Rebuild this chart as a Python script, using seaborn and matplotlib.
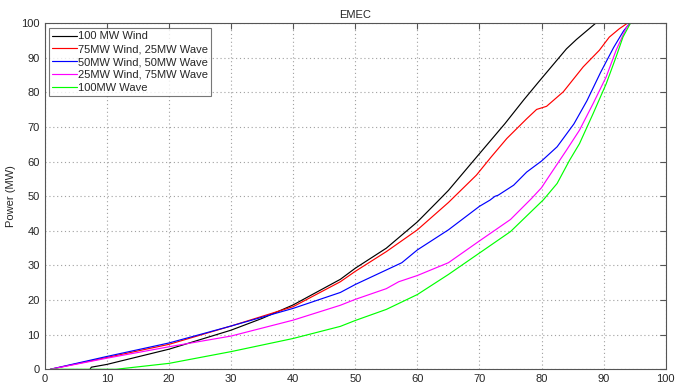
import matplotlib
matplotlib.use("Agg")
import matplotlib.pyplot as plt
import seaborn as sns
import pandas as pd

sns.set_style("white")
plt.rcParams['font.family'] = ['Liberation Sans', 'DejaVu Sans']

labels = ["100 MW Wind", "75MW Wind, 25MW Wave", "50MW Wind, 50MW Wave",
          "25MW Wind, 75MW Wave", "100MW Wave"]
colors = ["#000000", "#ff0000", "#0000ff", "#ff00ff", "#00ff00"]

wind100_x = [7.3, 7.5, 10, 20, 30, 35, 40, 47.6, 50, 55, 60, 63.2, 65, 69.0, 74.1, 77.1, 79.5, 84.0, 85.6, 88.7]
wind100_y = [0, 0.6, 1.4, 5.8, 11.3, 14.7, 18.6, 26, 29.2, 35, 42.6, 48.4, 51.7, 60.2, 71.0, 77.8, 83.0, 92.6, 95.3, 100]

w75_x = [0.9, 10, 20, 30, 40, 47.6, 50, 55, 60, 65, 69.5, 71.9, 74.4, 77.6, 79.2, 80.8, 83.5, 86.7, 89.3, 90.9, 92.5, 93.8]
w75_y = [0, 3.4, 7.2, 12.5, 18.1, 25.3, 28.3, 34, 40.3, 48.2, 56.1, 61.4, 66.7, 72.4, 75.1, 76.0, 80.2, 87.4, 92.2, 96.0, 98.4, 100]

w50_x = [0.9, 10, 20, 30, 40, 47.6, 50, 55, 57.5, 60, 65, 70, 71.7, 72.5, 73.0, 75.5, 77.6, 80.0, 82.5, 85.2, 87.3, 89.5, 91.6, 93.2, 94.2]
w50_y = [0, 3.7, 7.6, 12.5, 17.6, 22.2, 24.5, 28.7, 30.8, 34.5, 40.3, 47.1, 48.9, 50.0, 50.3, 53.2, 57.0, 60.2, 64.3, 70.9, 77.6, 85.8, 93.0, 97.8, 100]

w25_x = [0.9, 10, 20, 30, 40, 47.6, 50, 55, 57, 60, 65, 70, 75, 78.4, 80, 80.8, 84.0, 86.1, 88.3, 90.4, 92.0, 93.7, 94.3]
w25_y = [0, 3.2, 6.5, 9.6, 14.2, 18.5, 20.2, 23.3, 25.3, 27.1, 30.8, 37.1, 43.3, 49.4, 52.5, 54.7, 63.3, 69.1, 76.8, 84.5, 92.2, 98.9, 100]

wave100_x = [1, 11.5, 20, 30, 40, 47.6, 50, 55, 60, 65, 70, 75, 80.3, 82.5, 84.5, 86.1, 88.3, 90.4, 92.0, 93.1, 94.3]
wave100_y = [0, 0, 1.7, 5.1, 8.9, 12.4, 14.1, 17.3, 21.6, 27.4, 33.6, 39.8, 49.0, 53.7, 60.4, 65.2, 73.9, 82.5, 90.3, 96.0, 100]

xticks = list(range(0, 101, 10))
yticks = list(range(0, 101, 10))

series = [(wind100_x, wind100_y), (w75_x, w75_y), (w50_x, w50_y), (w25_x, w25_y), (wave100_x, wave100_y)]

fig = plt.figure(figsize=(6.78, 3.92), dpi=100)
ax = fig.add_axes([0.066, 0.058, 0.916, 0.8826])

for (xs, ys), lab, col in zip(series, labels, colors):
    df = pd.DataFrame({"x": xs, "y": ys})
    sns.lineplot(data=df, x="x", y="y", color=col, label=lab, sort=False,
                 linewidth=0.85, ax=ax, estimator=None)

ax.set_xlim(0, 100)
ax.set_ylim(0, 100)
ax.set_xticks(xticks)
ax.set_yticks(yticks)
ax.set_xlabel("")
ax.set_ylabel("Power (MW)", fontsize=8)
ax.set_title("EMEC", fontsize=8, pad=4)
ax.grid(True, linestyle=(0, (1, 2.5)), color="#a0a0a0", linewidth=0.8)
ax.tick_params(axis="both", direction="in", length=4, labelsize=8,
               top=True, right=True, color="#555555", width=0.8)
for s in ax.spines.values():
    s.set_visible(True)
    s.set_color("#555555")
    s.set_linewidth(0.8)

leg = ax.legend(loc="upper left", bbox_to_anchor=(0.007, 0.986), borderaxespad=0,
                fontsize=8, frameon=True, fancybox=False, handlelength=2.2,
                handletextpad=0.1, labelspacing=0.25, borderpad=0.3)
leg.get_frame().set_edgecolor("#555555")
leg.get_frame().set_linewidth(0.8)

fig.savefig("out.png", dpi=100)
